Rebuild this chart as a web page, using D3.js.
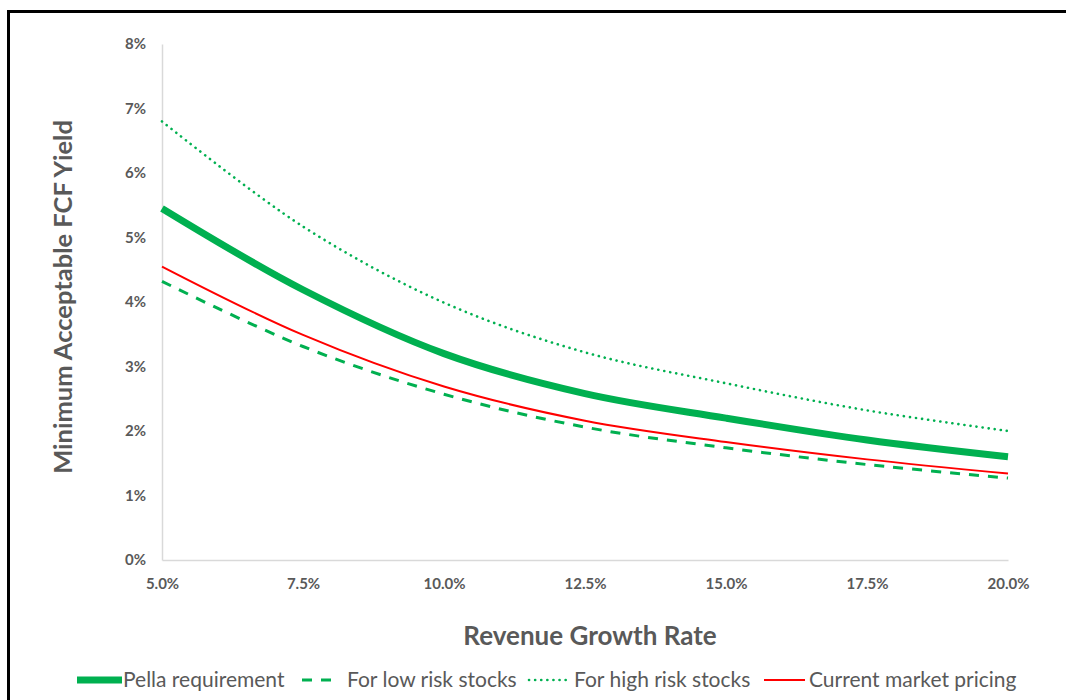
<!DOCTYPE html>
<html>
<head>
<meta charset="utf-8">
<script src="https://cdn.jsdelivr.net/npm/d3@7"></script>
<style>
  body { margin: 0; background: #fff; }
  svg { display: block; font-family: Lato, "Open Sans", sans-serif; }
</style>
</head>
<body>
<div id="chart"></div>
<script>
// revenue growth rate (x) and min acceptable FCF yield (%) per series
const growthRates = [5.0, 7.5, 10.0, 12.5, 15.0, 17.5, 20.0];
const pellaReq   = [5.45, 4.19, 3.20, 2.58, 2.20, 1.86, 1.60];
const lowRisk    = [4.32, 3.31, 2.57, 2.06, 1.74, 1.48, 1.27];
const highRisk   = [6.80, 5.17, 3.99, 3.22, 2.74, 2.32, 2.00];
const marketPx   = [4.55, 3.49, 2.69, 2.16, 1.83, 1.56, 1.34];
const yTicks = [0, 1, 2, 3, 4, 5, 6, 7, 8];
const seriesNames = ["Pella requirement", "For low risk stocks", "For high risk stocks", "Current market pricing"];

const width = 1066, height = 700;
const margin = {top: 44, right: 58, bottom: 140, left: 162};
const fontFam = "Lato, 'Open Sans', sans-serif";

const svg = d3.select("#chart").append("svg")
  .attr("width", width)
  .attr("height", height);

// outer frame (clipped at right/bottom like the screenshot)
svg.append("rect")
  .attr("x", 8.5).attr("y", 11.5)
  .attr("width", 1200).attr("height", 900)
  .attr("fill", "none")
  .attr("stroke", "#000")
  .attr("stroke-width", 3);

const x = d3.scaleLinear()
  .domain([5, 20])
  .range([margin.left, width - margin.right]);

const y = d3.scaleLinear()
  .domain([0, 8])
  .range([height - margin.bottom, margin.top]);

const labelColor = "#595959";

// axes
const xAxis = svg.append("g")
  .attr("transform", `translate(0,${y(0)})`)
  .call(d3.axisBottom(x).tickValues(growthRates).tickSize(0).tickPadding(18)
    .tickFormat(d => d.toFixed(1) + "%"))
  .attr("font-family", fontFam);
xAxis.select(".domain").attr("stroke", "#d9d9d9").attr("stroke-width", 1.5);
xAxis.selectAll("text")
  .attr("fill", labelColor)
  .style("font-size", "15px")
  .style("font-weight", "bold");

const yAxis = svg.append("g")
  .attr("transform", `translate(${x(5)},0)`)
  .call(d3.axisLeft(y).tickValues(yTicks).tickSize(0).tickPadding(16)
    .tickFormat(d => d + "%"))
  .attr("font-family", fontFam);
yAxis.select(".domain").attr("stroke", "#d9d9d9").attr("stroke-width", 1.5);
yAxis.selectAll("text")
  .attr("fill", labelColor)
  .style("font-size", "15px")
  .style("font-weight", "bold");

// axis titles
svg.append("text")
  .attr("x", 590).attr("y", 645)
  .attr("text-anchor", "middle")
  .attr("fill", labelColor)
  .style("font-size", "26px")
  .style("font-weight", "bold")
  .text("Revenue Growth Rate");

svg.append("text")
  .attr("transform", "translate(72,297) rotate(-90)")
  .attr("text-anchor", "middle")
  .attr("fill", labelColor)
  .style("font-size", "25.5px")
  .style("font-weight", "bold")
  .text("Minimum Acceptable FCF Yield");

// series styles
const series = [
  {name: seriesNames[1], values: lowRisk,  color: "#00b050", width: 3,   dash: "10,9", cap: "butt"},
  {name: seriesNames[2], values: highRisk, color: "#00b050", width: 2.6, dash: "0.1,6", cap: "round"},
  {name: seriesNames[3], values: marketPx, color: "#ff0000", width: 2,   dash: null, cap: "butt"},
  {name: seriesNames[0], values: pellaReq, color: "#00b050", width: 7,   dash: null, cap: "butt"}
];

const line = d3.line()
  .x((d, i) => x(growthRates[i]))
  .y(d => y(d))
  .curve(d3.curveCatmullRom.alpha(0.5));

svg.append("g").selectAll("path")
  .data(series)
  .join("path")
  .attr("d", d => line(d.values))
  .attr("fill", "none")
  .attr("stroke", d => d.color)
  .attr("stroke-width", d => d.width)
  .attr("stroke-dasharray", d => d.dash)
  .attr("stroke-linecap", d => d.cap);

// legend
const legendItems = [
  {s: series[3], x0: 77,  x1: 122, tx: 123},
  {s: series[0], x0: 302, x1: 337, tx: 347},
  {s: series[1], x0: 529, x1: 570, tx: 574},
  {s: series[2], x0: 764, x1: 805, tx: 809}
];
const legendY = 680;
const legend = svg.append("g");
legendItems.forEach(it => {
  legend.append("line")
    .attr("x1", it.x0).attr("x2", it.x1)
    .attr("y1", legendY).attr("y2", legendY)
    .attr("stroke", it.s.color)
    .attr("stroke-width", it.s.width)
    .attr("stroke-dasharray", it.s.dash)
    .attr("stroke-linecap", it.s.cap);
  legend.append("text")
    .attr("x", it.tx).attr("y", legendY)
    .attr("dy", "0.35em")
    .attr("fill", labelColor)
    .style("font-size", "21px")
    .text(it.s.name);
});
</script>
</body>
</html>
